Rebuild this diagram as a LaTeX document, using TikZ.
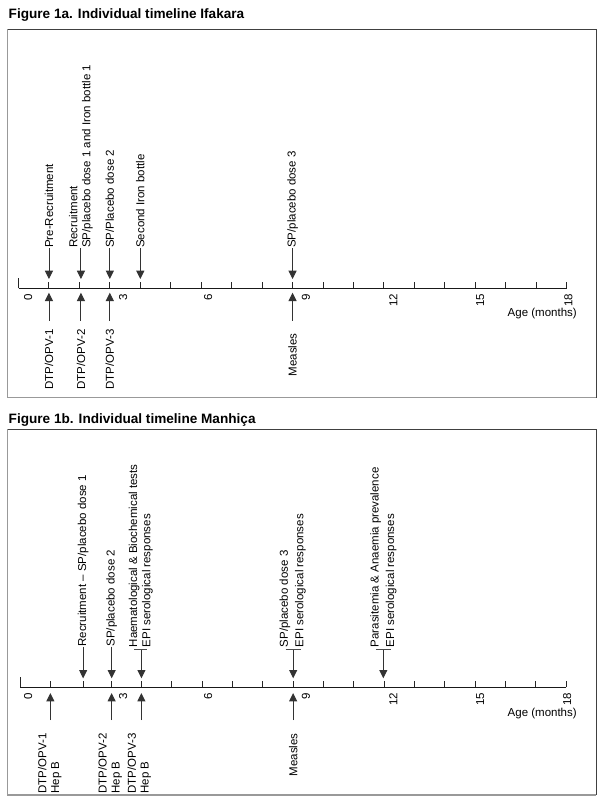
\documentclass[tikz,border=0pt]{standalone}
\usepackage{fontspec}
\setmainfont{Liberation Sans}
\usetikzlibrary{arrows.meta}
\begin{document}
\begin{tikzpicture}[x=1pt,y=-1pt,
  lbl/.style={font=\fontsize{11.5}{12.8}\selectfont, inner sep=0pt, rotate=90},
  ttl/.style={font=\fontsize{13.6}{16}\selectfont\bfseries, inner sep=0pt, anchor=base west},
  tk/.style={line width=1pt, black!85},
  ax/.style={line width=1.6pt, black!90},
  arr/.style={line width=0.9pt, black!80, -{Triangle[length=8.3pt,width=8pt]}},
  seg/.style={line width=0.8pt, black!70},
  boxtop/.style={line width=1pt, black!75},
  boxbot/.style={line width=1.5pt, black!40},
  agel/.style={font=\fontsize{11.5}{12.8}\selectfont, inner sep=0pt, anchor=base east},
]
\useasboundingbox (0,0) rectangle (600,800);
\fill[white] (0,0) rectangle (600,800);

% ---------------- Figure 1a ----------------
\node[ttl] (title1) at (8.5,19) {Figure 1a. Individual timeline Ifakara};
\draw[boxbot] (7.5,29.5) -- (7.5,397.5) -- (596,397.5);
\draw[boxtop] (7.5,29.5) -- (596,29.5) -- (596,397.5);

\begin{scope}[shift={(18.5,288.3)}, x=30.45pt, y=-1pt]
  \draw[ax] (0,0) -- (18,0);
  \draw[tk] (0,0) -- (0,-10);
  \foreach \m in {1,...,18} \draw[tk] (\m,0) -- (\m,-6);
  % tick labels
  \node[lbl, anchor=east] (a0) at (0.32,5.5) {0};
  \node[lbl, anchor=east] (a3) at (3.44,5.5) {3};
  \node[lbl, anchor=east] (a6) at (6.23,5.5) {6};
  \node[lbl, anchor=east] (a9) at (9.44,5.5) {9};
  \node[lbl, anchor=east] (a12) at (12.31,5.5) {12};
  \node[lbl, anchor=east] (a15) at (15.16,5.5) {15};
  \node[lbl, anchor=east] (a18) at (18.06,5.5) {18};
  \node[agel] (agea) at (18.34,28.4) {Age (months)};
  % events above
  \node[lbl, anchor=west] (pre) at (1,-40.3) {Pre-Recruitment};
  \coordinate (pret) at (1,-9.3);
  \draw[arr] (pre.west) -- (pret);
  \node[lbl, anchor=west, align=left] (rec) at (2.05,-40.3) {Recruitment\\SP/placebo dose 1 and Iron bottle 1};
  \coordinate (rect) at (2.05,-9.3);
  \coordinate (recs) at (2.05,-40.3);
  \draw[arr] (recs) -- (rect);
  \node[lbl, anchor=west] (sp2) at (3,-40.3) {SP/Placebo dose 2};
  \coordinate (sp2t) at (3,-9.3);
  \draw[arr] (sp2.west) -- (sp2t);
  \node[lbl, anchor=west] (iron) at (4,-40.3) {Second Iron bottle};
  \coordinate (iront) at (4,-9.3);
  \draw[arr] (iron.west) -- (iront);
  \node[lbl, anchor=west] (sp3) at (9,-40.3) {SP/placebo dose 3};
  \coordinate (sp3t) at (9,-9.3);
  \draw[arr] (sp3.west) -- (sp3t);
  % events below
  \node[lbl, anchor=east] (d1) at (1,41) {DTP/OPV-1};
  \coordinate (d1s) at (1,32.4); \coordinate (d1t) at (1,4.4);
  \draw[arr] (d1s) -- (d1t);
  \node[lbl, anchor=east] (d2) at (2.05,41) {DTP/OPV-2};
  \coordinate (d2s) at (2.05,32.4); \coordinate (d2t) at (2.05,4.4);
  \draw[arr] (d2s) -- (d2t);
  \node[lbl, anchor=east] (d3) at (3,41) {DTP/OPV-3};
  \coordinate (d3s) at (3,32.4); \coordinate (d3t) at (3,4.4);
  \draw[arr] (d3s) -- (d3t);
  \node[lbl, anchor=east] (mea) at (9,45) {Measles};
  \coordinate (meas) at (9,32.4); \coordinate (meat) at (9,4.4);
  \draw[arr] (meas) -- (meat);
\end{scope}

% ---------------- Figure 1b ----------------
\node[ttl] (title2) at (8.5,423) {Figure 1b. Individual timeline Manhiça};
\draw[boxbot] (7.5,429.3) -- (7.5,795) -- (596,795);
\draw[boxtop] (7.5,429.3) -- (596,429.3) -- (596,795);

\begin{scope}[shift={(20,687.3)}, x=30.35pt, y=-1pt]
  \draw[ax] (0,0) -- (18,0);
  \draw[tk] (0,0) -- (0,-10);
  \draw[tk] (1,0) -- (1,-6);
  \draw[tk] (2.08,0) -- (2.08,-6);
  \foreach \m in {3,...,18} \draw[tk] (\m,0) -- (\m,-6);
  % tick labels
  \node[lbl, anchor=east] (b0) at (0.27,5.5) {0};
  \node[lbl, anchor=east] (b3) at (3.40,5.5) {3};
  \node[lbl, anchor=east] (b6) at (6.20,5.5) {6};
  \node[lbl, anchor=east] (b9) at (9.42,5.5) {9};
  \node[lbl, anchor=east] (b12) at (12.30,5.5) {12};
  \node[lbl, anchor=east] (b15) at (15.16,5.5) {15};
  \node[lbl, anchor=east] (b18) at (18.03,5.5) {18};
  \node[agel] (ageb) at (18.35,28.7) {Age (months)};
  % events above
  \node[lbl, anchor=west] (brec) at (2.08,-40.6) {Recruitment -- SP/placebo dose 1};
  \coordinate (brect) at (2.08,-9);
  \draw[arr] (brec.west) -- (brect);
  \node[lbl, anchor=west] (bsp2) at (3.02,-40.6) {SP/placebo dose 2};
  \coordinate (bsp2t) at (3.02,-9);
  \draw[arr] (bsp2.west) -- (bsp2t);
  \node[lbl, anchor=west, align=left, font=\fontsize{11.5}{13.3}\selectfont] (haem) at (3.98,-40) {Haematological \& Biochemical tests\\EPI serological responses};
  \coordinate (haems) at (4,-38); \coordinate (haemt) at (4,-9);
  \draw[arr] (haems) -- (haemt);
  \draw[seg] ([xshift=-7pt]haems) -- ([xshift=6pt]haems);
  \node[lbl, anchor=west, align=left, font=\fontsize{11.5}{15.5}\selectfont] (bsp3) at (8.98,-40) {SP/placebo dose 3\\EPI serological responses};
  \coordinate (bsp3s) at (9,-38); \coordinate (bsp3t) at (9,-9);
  \draw[arr] (bsp3s) -- (bsp3t);
  \draw[seg] ([xshift=-7.5pt]bsp3s) -- ([xshift=8pt]bsp3s);
  \node[lbl, anchor=west, align=left, font=\fontsize{11.5}{15.5}\selectfont] (para) at (11.97,-40) {Parasitemia \& Anaemia prevalence\\EPI serological responses};
  \coordinate (paras) at (11.97,-38); \coordinate (parat) at (11.97,-9);
  \draw[arr] (paras) -- (parat);
  \draw[seg] ([xshift=-7.5pt]paras) -- ([xshift=8pt]paras);
  % events below
  \node[lbl, anchor=east, align=left] (e1) at (0.98,46) {DTP/OPV-1\\Hep B};
  \coordinate (e1s) at (1,32.7); \coordinate (e1t) at (1,5.8);
  \draw[arr] (e1s) -- (e1t);
  \node[lbl, anchor=east, align=left] (e2) at (2.97,46) {DTP/OPV-2\\Hep B};
  \coordinate (e2s) at (3.02,32.7); \coordinate (e2t) at (3.02,5.8);
  \draw[arr] (e2s) -- (e2t);
  \node[lbl, anchor=east, align=left] (e3) at (3.93,46) {DTP/OPV-3\\Hep B};
  \coordinate (e3s) at (4,32.7); \coordinate (e3t) at (4,5.8);
  \draw[arr] (e3s) -- (e3t);
  \node[lbl, anchor=east] (bmea) at (9,46) {Measles};
  \coordinate (bmeas) at (9,32.7); \coordinate (bmeat) at (9,5.8);
  \draw[arr] (bmeas) -- (bmeat);
\end{scope}
\end{tikzpicture}
\end{document}
